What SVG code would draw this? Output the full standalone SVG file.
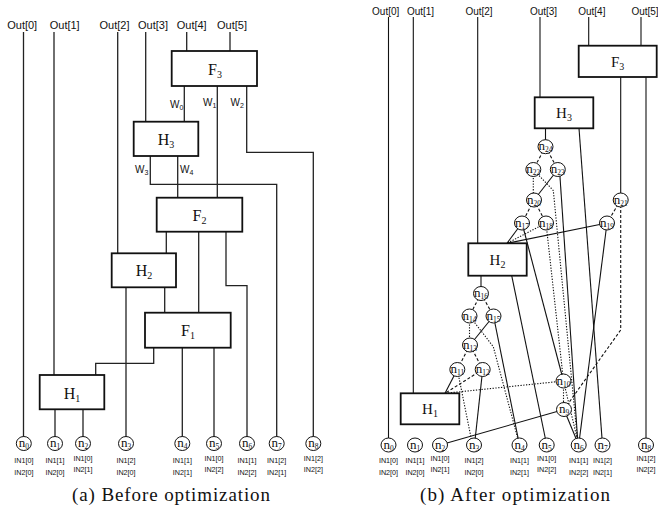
<svg xmlns="http://www.w3.org/2000/svg" width="658" height="508" viewBox="0 0 658 508">
<style>
.ln{fill:none;stroke:#222;stroke-width:1.3}
.rl{fill:none;stroke:#111;stroke-width:1.1}
.dash{stroke-dasharray:3 2}
.dot{stroke-dasharray:1.3 1.5}
.box{fill:#fff;stroke:#111;stroke-width:1.8}
.nd{fill:#fff;stroke:#111;stroke-width:1}
.out{font-family:"Liberation Sans",Arial,sans-serif;font-size:11px;fill:#111;text-anchor:middle}
.outr{font-family:"Liberation Sans",Arial,sans-serif;font-size:10px;fill:#111;text-anchor:middle}
.w{font-family:"Liberation Sans",Arial,sans-serif;font-size:10px;fill:#111}
.ws{font-size:7px}
.in{font-family:"Liberation Sans",Arial,sans-serif;font-size:7.2px;fill:#111;text-anchor:middle}
.bl{font-family:"Liberation Serif","Times New Roman",serif;font-size:16px;fill:#111;text-anchor:middle}
.blr{font-family:"Liberation Serif","Times New Roman",serif;font-size:15px;fill:#111;text-anchor:middle}
.bs{font-size:10px}
.nl{font-family:"Liberation Serif","Times New Roman",serif;font-size:13px;fill:#111;text-anchor:middle}
.ns{font-size:7.5px}
.cap{font-family:"Liberation Serif","Times New Roman",serif;font-size:19px;fill:#111;text-anchor:middle}
</style>

<!-- ===== (a) Before optimization ===== -->
<g id="a-connectors" class="ln">
<path d="M23.5 32V437"/>
<path d="M54 32V375"/>
<path d="M117.7 32V253.3"/>
<path d="M145.7 32V121.7"/>
<path d="M186.7 32V51"/>
<path d="M230 32V51"/>
<path d="M184.3 86V121.7"/>
<path d="M217.3 86V197.7"/>
<path d="M246.7 86V152.3H313.3V437"/>
<path d="M150.3 156V184.3H276.7V437"/>
<path d="M177.7 156V197.7"/>
<path d="M166.3 231.7V253.3"/>
<path d="M198.7 231.7V312.7"/>
<path d="M226 231.7V285.7H247V437"/>
<path d="M126 287.3V437"/>
<path d="M164.7 287.3V312.7"/>
<path d="M153.7 347.7V363.3H95.7V375"/>
<path d="M182.3 347.7V437"/>
<path d="M214 347.7V437"/>
<path d="M55 409.3V437"/>
<path d="M83 409.3V437"/>
</g>
<g id="a-outs">
<text class="out" x="22.2" y="29.3">Out[0]</text>
<text class="out" x="64.7" y="29.3">Out[1]</text>
<text class="out" x="114.5" y="29.3">Out[2]</text>
<text class="out" x="153" y="29.3">Out[3]</text>
<text class="out" x="191.7" y="29.3">Out[4]</text>
<text class="out" x="232" y="29.3">Out[5]</text>
</g>
<g id="a-wlabels">
<text class="w" x="170" y="108">W<tspan class="ws" dy="2">0</tspan></text>
<text class="w" x="203" y="106">W<tspan class="ws" dy="2">1</tspan></text>
<text class="w" x="230.5" y="106">W<tspan class="ws" dy="2">2</tspan></text>
<text class="w" x="135" y="172.5">W<tspan class="ws" dy="2">3</tspan></text>
<text class="w" x="180" y="172.5">W<tspan class="ws" dy="2">4</tspan></text>
</g>
<g id="a-F3"><rect class="box" x="171.7" y="51" width="85.3" height="35"/><text class="bl" x="215" y="75">F<tspan class="bs" dy="3">3</tspan></text></g>
<g id="a-H3"><rect class="box" x="133.7" y="121.7" width="64.6" height="34.3"/><text class="bl" x="166" y="145">H<tspan class="bs" dy="3">3</tspan></text></g>
<g id="a-F2"><rect class="box" x="156.7" y="197.7" width="85.6" height="34"/><text class="bl" x="199.5" y="221">F<tspan class="bs" dy="3">2</tspan></text></g>
<g id="a-H2"><rect class="box" x="111.7" y="253.3" width="64.3" height="34"/><text class="bl" x="144" y="276">H<tspan class="bs" dy="3">2</tspan></text></g>
<g id="a-F1"><rect class="box" x="145" y="312.7" width="85.7" height="35"/><text class="bl" x="188" y="336">F<tspan class="bs" dy="3">1</tspan></text></g>
<g id="a-H1"><rect class="box" x="39.7" y="375" width="64.6" height="34.3"/><text class="bl" x="72" y="398.5">H<tspan class="bs" dy="3">1</tspan></text></g>

<g id="a-n0"><ellipse class="nd" cx="23.8" cy="443.5" rx="7.5" ry="7"/><text class="nl" x="23.8" y="447">n<tspan class="ns" dy="2">0</tspan></text><text class="in" x="23.8" y="463">IN1[0]</text><text class="in" x="23.8" y="474.5">IN2[0]</text></g>
<g id="a-n1"><ellipse class="nd" cx="55" cy="443.5" rx="7.5" ry="7"/><text class="nl" x="55" y="447">n<tspan class="ns" dy="2">1</tspan></text><text class="in" x="55" y="463">IN1[1]</text><text class="in" x="55" y="474.5">IN2[0]</text></g>
<g id="a-n2"><ellipse class="nd" cx="83" cy="443.5" rx="7.5" ry="7"/><text class="nl" x="83" y="447">n<tspan class="ns" dy="2">2</tspan></text><text class="in" x="83" y="461">IN1[0]</text><text class="in" x="83" y="471.5">IN2[1]</text></g>
<g id="a-n3"><ellipse class="nd" cx="126" cy="443.5" rx="7.5" ry="7"/><text class="nl" x="126" y="447">n<tspan class="ns" dy="2">3</tspan></text><text class="in" x="126" y="463">IN1[2]</text><text class="in" x="126" y="474.5">IN2[0]</text></g>
<g id="a-n4"><ellipse class="nd" cx="182.3" cy="443.5" rx="7.5" ry="7"/><text class="nl" x="182.3" y="447">n<tspan class="ns" dy="2">4</tspan></text><text class="in" x="182.3" y="463">IN1[1]</text><text class="in" x="182.3" y="474.5">IN2[1]</text></g>
<g id="a-n5"><ellipse class="nd" cx="214" cy="443.5" rx="7.5" ry="7"/><text class="nl" x="214" y="447">n<tspan class="ns" dy="2">5</tspan></text><text class="in" x="214" y="461">IN1[0]</text><text class="in" x="214" y="471.5">IN2[2]</text></g>
<g id="a-n6"><ellipse class="nd" cx="247" cy="443.5" rx="7.5" ry="7"/><text class="nl" x="247" y="447">n<tspan class="ns" dy="2">6</tspan></text><text class="in" x="247" y="463">IN1[1]</text><text class="in" x="247" y="474.5">IN2[2]</text></g>
<g id="a-n7"><ellipse class="nd" cx="276.7" cy="443.5" rx="7.5" ry="7"/><text class="nl" x="276.7" y="447">n<tspan class="ns" dy="2">7</tspan></text><text class="in" x="276.7" y="463">IN1[2]</text><text class="in" x="276.7" y="474.5">IN2[1]</text></g>
<g id="a-n8"><ellipse class="nd" cx="313.3" cy="443.5" rx="7.5" ry="7"/><text class="nl" x="313.3" y="447">n<tspan class="ns" dy="2">8</tspan></text><text class="in" x="313.3" y="461">IN1[2]</text><text class="in" x="313.3" y="471.5">IN2[2]</text></g>
<text id="cap-a" class="cap" x="171" y="501" textLength="198" lengthAdjust="spacing">(a) Before optimization</text>

<!-- ===== (b) After optimization ===== -->
<g id="b-connectors" class="rl">
<path d="M388.5 17V438"/>
<path d="M413.3 17V393.3"/>
<path d="M477.7 17V243.3"/>
<path d="M540 17V97.3"/>
<path d="M588.7 17V45.7"/>
<path d="M641 17V45.7"/>
<path d="M545.5 128.3V146.7"/>
<path d="M579 128.3L602.5 445"/>
<path d="M620.7 77V200"/>
<path d="M646 77V445"/>
<path d="M557.8 169.5L534 200"/>
<path d="M559.5 169.5L578 445"/>
<path d="M522 223L507 243.3"/>
<path d="M607 223L507 243.3"/>
<path d="M522 223L563.5 381"/>
<path d="M607 223L578.7 445"/>
<path d="M511.7 275.7L546.7 445"/>
<path d="M481 275.7V293.5"/>
<path d="M493.5 316L470 345"/>
<path d="M493.5 316L519.5 445"/>
<path d="M482.7 369.5L474.5 445"/>
<path d="M457.3 369.5L445 393.3"/>
<path d="M564 409.5L440 445"/>
<path d="M564 409.5L578.7 445"/>
<g class="dash">
<path d="M545.5 146.7L533.3 169.5"/>
<path d="M545.5 146.7L557.8 169.5"/>
<path d="M534 200L522 223"/>
<path d="M534 200L546 223"/>
<path d="M620.7 200L607 223"/>
<path d="M620.7 200V330L564 409.5"/>
<path d="M481 293.5L469.5 316"/>
<path d="M481 293.5L493.5 316"/>
<path d="M470 345L457.3 369.5"/>
<path d="M470 345L482.7 369.5"/>
<path d="M482.7 369.5L445 393.3"/>
</g>
<g class="dot">
<path d="M533.3 169.5V200"/>
<path d="M533.3 169.5L553.3 190.5L578 445"/>
<path d="M546 223L563.5 381"/>
<path d="M546 223L507 243.3"/>
<path d="M563.5 381V409.5"/>
<path d="M563.5 381L578.7 445"/>
<path d="M563.5 381L445 393.3"/>
<path d="M469.5 316V345"/>
<path d="M469.5 316L493.3 346.7L519.5 445"/>
<path d="M457.3 369.5L472.5 445"/>
</g>
</g>
<g id="b-outs">
<text class="outr" x="385.7" y="15">Out[0]</text>
<text class="outr" x="420.5" y="15">Out[1]</text>
<text class="outr" x="479" y="15">Out[2]</text>
<text class="outr" x="543.5" y="15">Out[3]</text>
<text class="outr" x="591.8" y="15">Out[4]</text>
<text class="outr" x="645" y="15">Out[5]</text>
</g>
<g id="b-F3"><rect class="box" x="578.7" y="45.7" width="78" height="31.3"/><text class="blr" x="617.7" y="66.5">F<tspan class="bs" dy="3">3</tspan></text></g>
<g id="b-H3"><rect class="box" x="534.7" y="97.3" width="58.6" height="31"/><text class="blr" x="564" y="118">H<tspan class="bs" dy="3">3</tspan></text></g>
<g id="b-H2"><rect class="box" x="468.3" y="243.3" width="58.4" height="32.4"/><text class="blr" x="497.5" y="264.5">H<tspan class="bs" dy="3">2</tspan></text></g>
<g id="b-H1"><rect class="box" x="400.7" y="393.3" width="58.6" height="31"/><text class="blr" x="430" y="414">H<tspan class="bs" dy="3">1</tspan></text></g>

<g id="b-n24"><ellipse class="nd" cx="545.5" cy="146.7" rx="7.5" ry="7"/><text class="nl" x="545.5" y="150.2">n<tspan class="ns" dy="2">24</tspan></text></g>
<g id="b-n22"><ellipse class="nd" cx="533.3" cy="169.5" rx="7.5" ry="7"/><text class="nl" x="533.3" y="173">n<tspan class="ns" dy="2">22</tspan></text></g>
<g id="b-n23"><ellipse class="nd" cx="557.8" cy="169.5" rx="7.5" ry="7"/><text class="nl" x="557.8" y="173">n<tspan class="ns" dy="2">23</tspan></text></g>
<g id="b-n20"><ellipse class="nd" cx="534" cy="200" rx="7.5" ry="7"/><text class="nl" x="534" y="203.5">n<tspan class="ns" dy="2">20</tspan></text></g>
<g id="b-n21"><ellipse class="nd" cx="620.7" cy="200" rx="7.5" ry="7"/><text class="nl" x="620.7" y="203.5">n<tspan class="ns" dy="2">21</tspan></text></g>
<g id="b-n17"><ellipse class="nd" cx="522" cy="223" rx="7.5" ry="7"/><text class="nl" x="522" y="226.5">n<tspan class="ns" dy="2">17</tspan></text></g>
<g id="b-n18"><ellipse class="nd" cx="546" cy="223" rx="7.5" ry="7"/><text class="nl" x="546" y="226.5">n<tspan class="ns" dy="2">18</tspan></text></g>
<g id="b-n19"><ellipse class="nd" cx="607" cy="223" rx="7.5" ry="7"/><text class="nl" x="607" y="226.5">n<tspan class="ns" dy="2">19</tspan></text></g>
<g id="b-n16"><ellipse class="nd" cx="481" cy="293.5" rx="7.5" ry="7"/><text class="nl" x="481" y="297">n<tspan class="ns" dy="2">16</tspan></text></g>
<g id="b-n14"><ellipse class="nd" cx="469.5" cy="316" rx="7.5" ry="7"/><text class="nl" x="469.5" y="319.5">n<tspan class="ns" dy="2">14</tspan></text></g>
<g id="b-n15"><ellipse class="nd" cx="493.5" cy="316" rx="7.5" ry="7"/><text class="nl" x="493.5" y="319.5">n<tspan class="ns" dy="2">15</tspan></text></g>
<g id="b-n13"><ellipse class="nd" cx="470" cy="345" rx="7.5" ry="7"/><text class="nl" x="470" y="348.5">n<tspan class="ns" dy="2">13</tspan></text></g>
<g id="b-n11"><ellipse class="nd" cx="457.3" cy="369.5" rx="7.5" ry="7"/><text class="nl" x="457.3" y="373">n<tspan class="ns" dy="2">11</tspan></text></g>
<g id="b-n12"><ellipse class="nd" cx="482.7" cy="369.5" rx="7.5" ry="7"/><text class="nl" x="482.7" y="373">n<tspan class="ns" dy="2">12</tspan></text></g>
<g id="b-n10"><ellipse class="nd" cx="563.5" cy="381" rx="7.5" ry="7"/><text class="nl" x="563.5" y="384.5">n<tspan class="ns" dy="2">10</tspan></text></g>
<g id="b-n9"><ellipse class="nd" cx="564" cy="409.5" rx="7.5" ry="7"/><text class="nl" x="564" y="413">n<tspan class="ns" dy="2">9</tspan></text></g>

<g id="b-n0"><ellipse class="nd" cx="388.5" cy="445" rx="7.5" ry="7"/><text class="nl" x="388.5" y="448.5">n<tspan class="ns" dy="2">0</tspan></text><text class="in" x="388.5" y="463">IN1[0]</text><text class="in" x="388.5" y="474.5">IN2[0]</text></g>
<g id="b-n1"><ellipse class="nd" cx="415" cy="445" rx="7.5" ry="7"/><text class="nl" x="415" y="448.5">n<tspan class="ns" dy="2">1</tspan></text><text class="in" x="415" y="463">IN1[1]</text><text class="in" x="415" y="474.5">IN2[0]</text></g>
<g id="b-n2"><ellipse class="nd" cx="440" cy="445" rx="7.5" ry="7"/><text class="nl" x="440" y="448.5">n<tspan class="ns" dy="2">2</tspan></text><text class="in" x="440" y="461">IN1[0]</text><text class="in" x="440" y="471.5">IN2[1]</text></g>
<g id="b-n3"><ellipse class="nd" cx="474" cy="445" rx="7.5" ry="7"/><text class="nl" x="474" y="448.5">n<tspan class="ns" dy="2">3</tspan></text><text class="in" x="474" y="463">IN1[2]</text><text class="in" x="474" y="474.5">IN2[0]</text></g>
<g id="b-n4"><ellipse class="nd" cx="519.5" cy="445" rx="7.5" ry="7"/><text class="nl" x="519.5" y="448.5">n<tspan class="ns" dy="2">4</tspan></text><text class="in" x="519.5" y="463">IN1[1]</text><text class="in" x="519.5" y="474.5">IN2[1]</text></g>
<g id="b-n5"><ellipse class="nd" cx="546.7" cy="445" rx="7.5" ry="7"/><text class="nl" x="546.7" y="448.5">n<tspan class="ns" dy="2">5</tspan></text><text class="in" x="546.7" y="461">IN1[0]</text><text class="in" x="546.7" y="471.5">IN2[2]</text></g>
<g id="b-n6"><ellipse class="nd" cx="578.7" cy="445" rx="7.5" ry="7"/><text class="nl" x="578.7" y="448.5">n<tspan class="ns" dy="2">6</tspan></text><text class="in" x="578.7" y="463">IN1[1]</text><text class="in" x="578.7" y="474.5">IN2[2]</text></g>
<g id="b-n7"><ellipse class="nd" cx="602.5" cy="445" rx="7.5" ry="7"/><text class="nl" x="602.5" y="448.5">n<tspan class="ns" dy="2">7</tspan></text><text class="in" x="602.5" y="463">IN1[2]</text><text class="in" x="602.5" y="474.5">IN2[1]</text></g>
<g id="b-n8"><ellipse class="nd" cx="646" cy="445" rx="7.5" ry="7"/><text class="nl" x="646" y="448.5">n<tspan class="ns" dy="2">8</tspan></text><text class="in" x="646" y="461">IN1[2]</text><text class="in" x="646" y="471.5">IN2[2]</text></g>
<text id="cap-b" class="cap" x="515" y="501" textLength="190" lengthAdjust="spacing">(b) After optimization</text>
</svg>
